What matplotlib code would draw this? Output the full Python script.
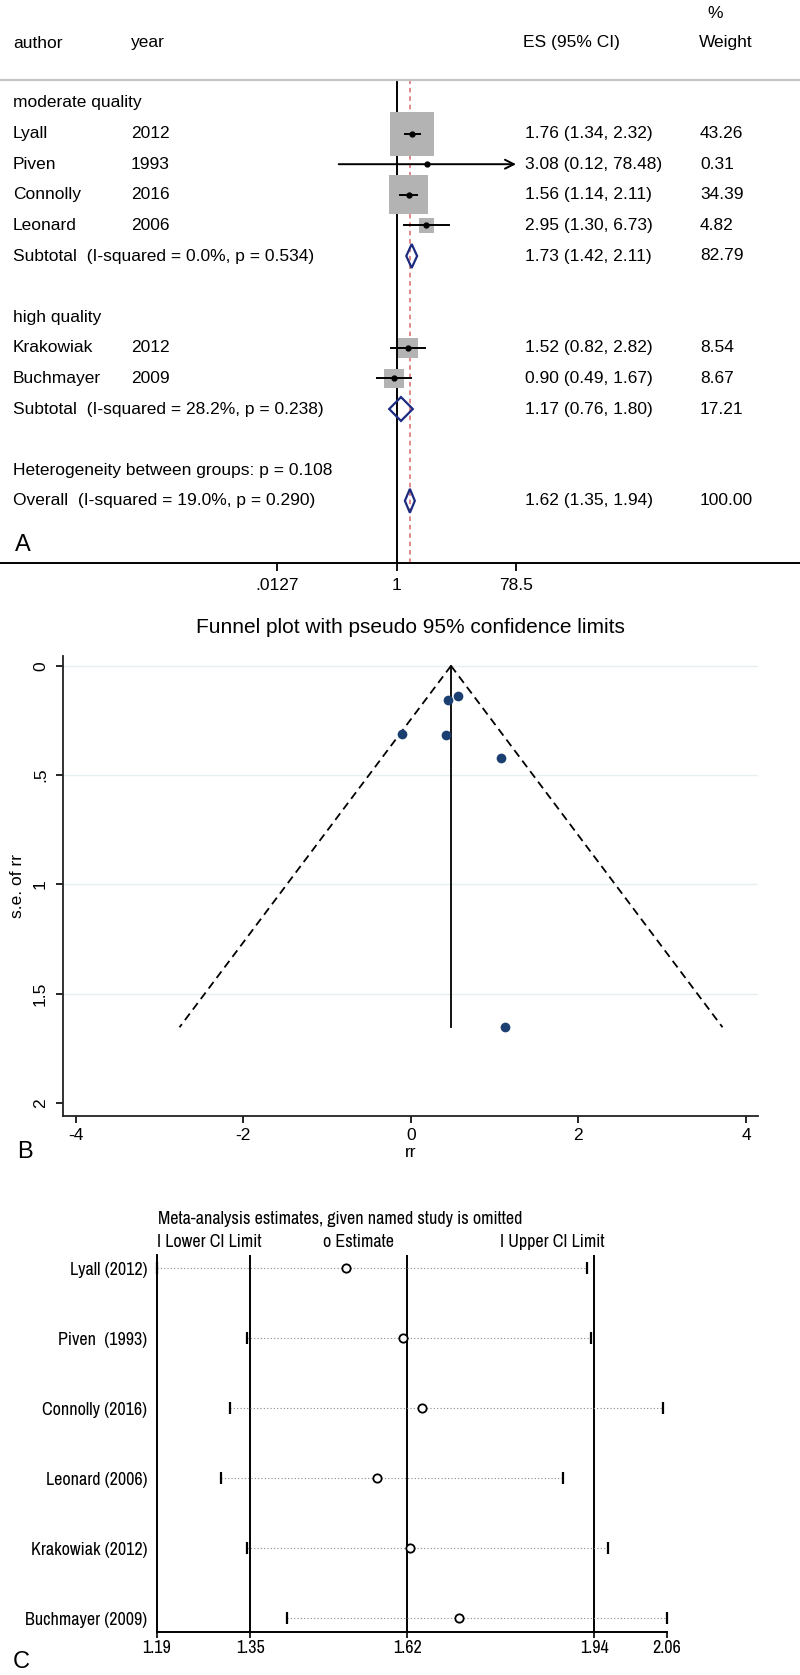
import numpy as np
import matplotlib
matplotlib.use('Agg')
import matplotlib.pyplot as plt
import matplotlib.transforms as mtransforms
import matplotlib.font_manager as fm
from matplotlib.patches import Polygon
from matplotlib.ticker import NullLocator

# ---------------- Panel A data (forest plot) ----------------
authors = ['Lyall', 'Piven', 'Connolly', 'Leonard', 'Krakowiak', 'Buchmayer']
years = ['2012', '1993', '2016', '2006', '2012', '2009']
es = [1.76, 3.08, 1.56, 2.95, 1.52, 0.90]
ci_low = [1.34, 0.12, 1.14, 1.30, 0.82, 0.49]
ci_high = [2.32, 78.48, 2.11, 6.73, 2.82, 1.67]
weights = [43.26, 0.31, 34.39, 4.82, 8.54, 8.67]
study_rows = [1, 2, 3, 4, 8, 9]

group_labels = ['moderate quality', 'high quality']
group_rows = [0, 7]

pooled_labels = ['Subtotal  (I-squared = 0.0%, p = 0.534)',
                 'Subtotal  (I-squared = 28.2%, p = 0.238)',
                 'Overall  (I-squared = 19.0%, p = 0.290)']
pooled_es = [1.73, 1.17, 1.62]
pooled_low = [1.42, 0.76, 1.35]
pooled_high = [2.11, 1.80, 1.94]
pooled_weights = [82.79, 17.21, 100.00]
pooled_rows = [5, 10, 13]
het_label = 'Heterogeneity between groups: p = 0.108'
het_row = 12
overall_es = 1.62
forest_ticks = [0.0127, 1, 78.5]
forest_ticklabels = ['.0127', '1', '78.5']

# ---------------- Panel B data (funnel plot) ----------------
funnel_rr = [0.565, 1.125, 0.445, 1.082, 0.419, -0.105]
funnel_se = [0.140, 1.654, 0.157, 0.420, 0.315, 0.313]
funnel_center = 0.48
funnel_max_se = 1.654
funnel_left = -2.76
funnel_right = 3.72
funnel_xticks = [-4, -2, 0, 2, 4]
funnel_yticks = [0, 0.5, 1, 1.5, 2]
funnel_yticklabels = ['0', '.5', '1', '1.5', '2']

# ---------------- Panel C data (influence analysis) ----------------
infl_labels = ['Lyall (2012)', 'Piven  (1993)', 'Connolly (2016)',
               'Leonard (2006)', 'Krakowiak (2012)', 'Buchmayer (2009)']
infl_est = [1.514, 1.612, 1.645, 1.567, 1.625, 1.708]
infl_low = [1.1905, 1.345, 1.316, 1.301, 1.344, 1.413]
infl_high = [1.927, 1.934, 2.058, 1.887, 1.964, 2.065]
infl_ref = [1.35, 1.62, 1.94]
infl_ticks = [1.1905, 1.35, 1.62, 1.94, 2.065]
infl_ticklabels = ['1.19', '1.35', '1.62', '1.94', '2.06']

# ---------------- fonts ----------------
names = {f.name for f in fm.fontManager.ttflist}
BASE = 'Liberation Sans' if 'Liberation Sans' in names else 'DejaVu Sans'
narrow_files = [f.fname for f in fm.fontManager.ttflist
                if ('Narrow' in f.name or 'Narrow' in f.fname)
                and 'Bold' not in f.fname and 'Italic' not in f.fname]
if narrow_files:
    NPROP = fm.FontProperties(fname=narrow_files[0], size=13.0)
else:
    NPROP = fm.FontProperties(family=BASE, size=11.2)
plt.rcParams['font.family'] = [BASE, 'DejaVu Sans']

W, H = 800, 1675
fig = plt.figure(figsize=(W / 100, H / 100), dpi=100)


def rect(l, t, r, b):
    return [l / W, 1 - b / H, (r - l) / W, (b - t) / H]


def fpos(x, y):
    return x / W, 1 - y / H


# =============== Panel A ===============
axA = fig.add_axes(rect(0, 80, 800, 563))
axA.set_xscale('log')
ppl = 27.35
axA.set_xlim(np.exp(-396.7 / ppl), np.exp((800 - 396.7) / ppl))
row_px, row0 = 30.6, 103
axA.set_ylim((563 - row0) / row_px, (80 - row0) / row_px)
for s in ['left', 'right']:
    axA.spines[s].set_visible(False)
axA.spines['top'].set_color('#c4c4c4')
axA.spines['top'].set_linewidth(1.6)
axA.spines['bottom'].set_linewidth(1.4)
axA.set_yticks([])
axA.set_xticks(forest_ticks)
axA.set_xticklabels(forest_ticklabels)
axA.xaxis.set_minor_locator(NullLocator())
axA.tick_params(axis='x', direction='out', length=6, width=1.3, labelsize=12.5, pad=5)

axA.axvline(1, color='black', lw=1.4, zorder=1)
axA.axvline(overall_es, color='#d46a6a', lw=1.1, ls=(0, (3, 2.5)), zorder=1)

for i in range(len(authors)):
    y = study_rows[i]
    side = 44 * np.sqrt(weights[i] / weights[0]) * 0.72
    axA.scatter([es[i]], [y], marker='s', s=side ** 2, color='#b3b3b3',
                edgecolors='none', zorder=3)
    if ci_high[i] > 50:
        axA.annotate('', xy=(ci_high[i], y), xytext=(ci_low[i], y),
                     arrowprops=dict(arrowstyle='->', lw=1.4, color='black',
                                     mutation_scale=16, shrinkA=0, shrinkB=0),
                     zorder=4)
    else:
        axA.plot([ci_low[i], ci_high[i]], [y, y], color='black', lw=1.4, zorder=4)
    axA.plot([es[i]], [y], 'o', color='black', ms=3.5, zorder=5)

half_h = 0.39
for i in range(len(pooled_es)):
    y = pooled_rows[i]
    verts = [(pooled_low[i], y), (pooled_es[i], y - half_h),
             (pooled_high[i], y), (pooled_es[i], y + half_h)]
    axA.add_patch(Polygon(verts, closed=True, fill=False, edgecolor='#1c2a80',
                          lw=1.6, zorder=4))

trA = mtransforms.blended_transform_factory(axA.transAxes, axA.transData)
fs = 12.5
xa, xy_, xes, xw = 13 / W, 131 / W, 525 / W, 700 / W
for i in range(len(authors)):
    y = study_rows[i]
    axA.text(xa, y, authors[i], transform=trA, va='center', fontsize=fs)
    axA.text(xy_, y, years[i], transform=trA, va='center', fontsize=fs)
    axA.text(xes, y, f'{es[i]:.2f} ({ci_low[i]:.2f}, {ci_high[i]:.2f})',
             transform=trA, va='center', fontsize=fs)
    axA.text(xw, y, f'{weights[i]:.2f}', transform=trA, va='center', fontsize=fs)
for i in range(len(group_labels)):
    axA.text(xa, group_rows[i], group_labels[i], transform=trA, va='center', fontsize=fs)
for i in range(len(pooled_es)):
    y = pooled_rows[i]
    axA.text(xa, y, pooled_labels[i], transform=trA, va='center', fontsize=fs)
    axA.text(xes, y, f'{pooled_es[i]:.2f} ({pooled_low[i]:.2f}, {pooled_high[i]:.2f})',
             transform=trA, va='center', fontsize=fs)
    axA.text(xw, y, f'{pooled_weights[i]:.2f}', transform=trA, va='center', fontsize=fs)
axA.text(xa, het_row, het_label, transform=trA, va='center', fontsize=fs)

fig.text(*fpos(13, 43), 'author', va='center', fontsize=fs)
fig.text(*fpos(131, 43), 'year', va='center', fontsize=fs)
fig.text(*fpos(523, 43), 'ES (95% CI)', va='center', fontsize=fs)
fig.text(*fpos(699, 43), 'Weight', va='center', fontsize=fs)
fig.text(*fpos(707, 13), '%', va='center', fontsize=fs)
fig.text(*fpos(15, 545), 'A', va='center', ha='left', fontsize=17)

# =============== Panel B ===============
axB = fig.add_axes(rect(63.3, 656, 758.3, 1116))
axB.set_xlim(-4.147, 4.147)
axB.set_ylim(2.06, -0.045)
for s in ['top', 'right']:
    axB.spines[s].set_visible(False)
for s in ['left', 'bottom']:
    axB.spines[s].set_linewidth(1.3)
    axB.spines[s].set_color('#222222')
for v in funnel_yticks[:-1]:
    axB.axhline(v, color='#e8eff1', lw=1.0, zorder=0)
axB.plot([funnel_center, funnel_left], [0, funnel_max_se], color='black',
         lw=1.3, ls=(0, (4.5, 2.8)))
axB.plot([funnel_center, funnel_right], [0, funnel_max_se], color='black',
         lw=1.3, ls=(0, (4.5, 2.8)))
axB.plot([funnel_center, funnel_center], [0, funnel_max_se], color='black', lw=1.3)
axB.plot(funnel_rr, funnel_se, 'o', color='#1a3f70', ms=7, mec='none', zorder=5)
axB.set_xticks(funnel_xticks)
axB.set_xticklabels([str(v) for v in funnel_xticks])
axB.set_yticks(funnel_yticks)
axB.set_yticklabels(funnel_yticklabels, rotation=90, va='center')
axB.tick_params(axis='both', direction='out', length=5, width=1.2, labelsize=12.5)
axB.tick_params(axis='x', pad=4)
axB.tick_params(axis='y', pad=6)
axB.set_xlabel('rr', fontsize=12.5, labelpad=1)
axB.set_ylabel('s.e. of rr', fontsize=12.5, labelpad=6)
fig.text(*fpos(410.8, 628), 'Funnel plot with pseudo 95% confidence limits',
         ha='center', va='center', fontsize=15)
fig.text(*fpos(17, 1152), 'B', va='center', ha='left', fontsize=17)

# =============== Panel C ===============
axC = fig.add_axes(rect(157, 1255, 667, 1632))
axC.set_xlim(infl_ticks[0], infl_ticks[-1])
axC.set_ylim(5.196, -0.19)
for s in ['top', 'right']:
    axC.spines[s].set_visible(False)
for s in ['left', 'bottom']:
    axC.spines[s].set_linewidth(1.4)
for v in infl_ref:
    axC.axvline(v, color='black', lw=1.4, zorder=1)
rows = np.arange(len(infl_labels))
for i in rows:
    axC.plot([infl_low[i], infl_high[i]], [i, i], color='#8a8a8a', lw=0.8,
             ls=(0, (1, 2)), zorder=2)
axC.plot(infl_low, rows, '|', color='black', ms=8, mew=1.6, zorder=4, clip_on=False)
axC.plot(infl_high, rows, '|', color='black', ms=8, mew=1.6, zorder=4, clip_on=False)
axC.plot(infl_est, rows, 'o', mfc='white', mec='black', ms=6, mew=1.3, zorder=5)
axC.set_yticks(rows)
axC.set_yticklabels(infl_labels, fontproperties=NPROP)
axC.tick_params(axis='y', length=0, pad=7)
axC.set_xticks(infl_ticks)
axC.set_xticklabels(infl_ticklabels, fontproperties=NPROP)
axC.tick_params(axis='x', direction='out', length=4, width=1.2, pad=2)

fig.text(*fpos(158, 1219), 'Meta-analysis estimates, given named study is omitted',
         va='center', fontproperties=NPROP)
fig.text(*fpos(157, 1242), 'I Lower CI Limit', va='center', fontproperties=NPROP)
fig.text(*fpos(323, 1242), 'o Estimate', va='center', fontproperties=NPROP)
fig.text(*fpos(500, 1242), 'I Upper CI Limit', va='center', fontproperties=NPROP)
fig.text(*fpos(13, 1662), 'C', va='center', ha='left', fontsize=17)

fig.savefig('out.png', dpi=100)
